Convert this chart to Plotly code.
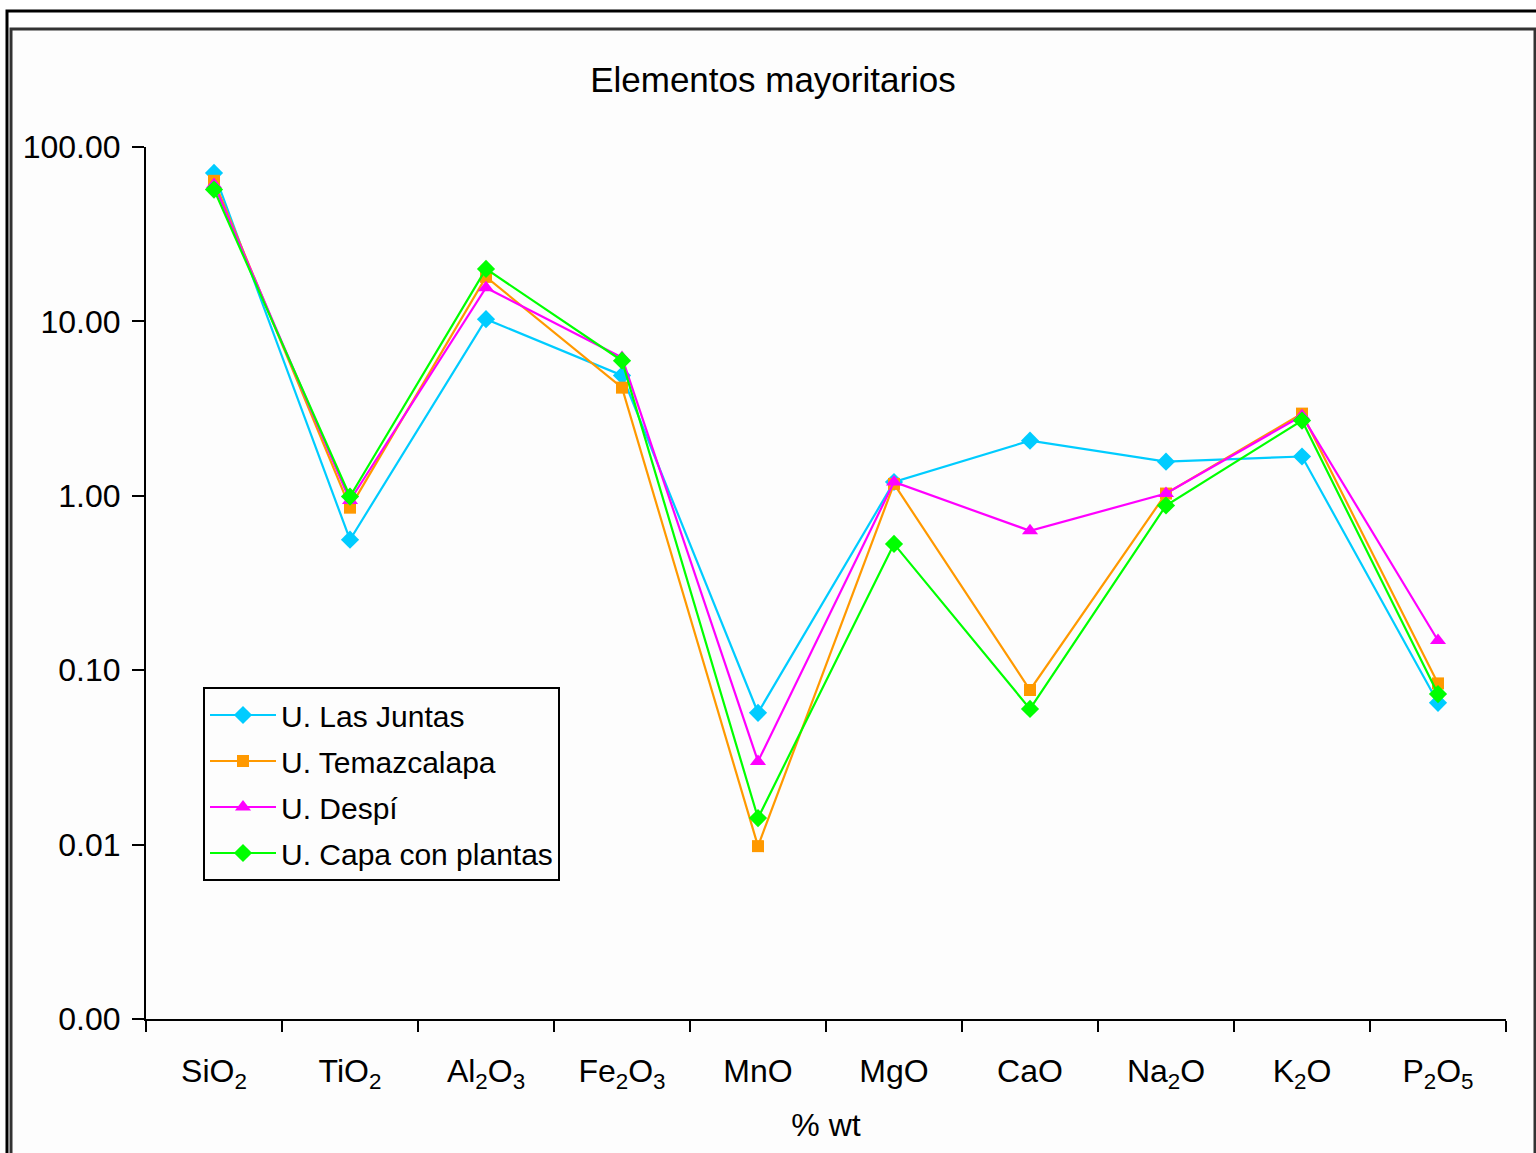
import plotly.graph_objects as go

categories = ["SiO<sub>2</sub>", "TiO<sub>2</sub>", "Al<sub>2</sub>O<sub>3</sub>", "Fe<sub>2</sub>O<sub>3</sub>",
              "MnO", "MgO", "CaO", "Na<sub>2</sub>O", "K<sub>2</sub>O", "P<sub>2</sub>O<sub>5</sub>"]

las_juntas = [71.0, 0.56, 10.3, 4.9, 0.057, 1.20, 2.07, 1.57, 1.68, 0.065]
temazcalapa = [64.0, 0.855, 18.0, 4.17, 0.0098, 1.17, 0.077, 1.03, 2.96, 0.084]
despi = [61.0, 0.94, 15.6, 6.2, 0.030, 1.20, 0.63, 1.03, 2.88, 0.148]
capa_plantas = [57.0, 0.99, 20.0, 5.95, 0.0142, 0.53, 0.060, 0.88, 2.70, 0.073]

series_names = ["U. Las Juntas", "U. Temazcalapa", "U. Despí", "U. Capa con plantas"]
y_tickvals = [0.001, 0.01, 0.1, 1, 10, 100]
y_ticktext = ["0.00", "0.01", "0.10", "1.00", "10.00", "100.00"]

W, H = 1536, 1153
L, R, T, B = 146, 1506, 147, 1019

def px_x(p):
    return (p - L) / (R - L)

def px_y(p):
    return (B - p) / (B - T)

styles = [
    dict(color="#00CCFF", symbol="diamond", size=14),
    dict(color="#FF9900", symbol="square", size=12),
    dict(color="#FF00FF", symbol="triangle-up", size=14),
    dict(color="#00FF00", symbol="diamond", size=14),
]

fig = go.Figure()
for i, (name, vals, st) in enumerate(zip(series_names, [las_juntas, temazcalapa, despi, capa_plantas], styles)):
    fig.add_trace(go.Scatter(
        x=categories, y=vals, name=name, mode="lines+markers",
        legendgroup=f"g{i}",
        line=dict(color=st["color"], width=2.2),
        marker=dict(color=st["color"], symbol=st["symbol"], size=st["size"]),
    ))

font_family = "Liberation Sans, Arial, sans-serif"

fig.update_layout(
    width=W, height=H,
    margin=dict(l=L, r=W - R, t=T, b=H - B),
    paper_bgcolor="white",
    plot_bgcolor="rgba(0,0,0,0)",
    font=dict(family=font_family, size=30, color="black"),
    title=dict(text="Elementos mayoritarios", x=773 / W, xanchor="center",
               y=1 - 80 / H, yanchor="middle", font=dict(size=35, color="black")),
    showlegend=True,
    legend=dict(x=px_x(203), y=px_y(687), xanchor="left", yanchor="top",
                bordercolor="black", borderwidth=2, bgcolor="rgba(0,0,0,0)",
                font=dict(size=30, color="black"), itemwidth=66,
                tracegroupgap=4),
    shapes=[
        dict(type="rect", xref="paper", yref="paper",
             x0=px_x(7), x1=px_x(1560), y0=px_y(1180), y1=px_y(11),
             line=dict(color="black", width=3), fillcolor="white", layer="below"),
        dict(type="rect", xref="paper", yref="paper",
             x0=px_x(11), x1=px_x(1535), y0=px_y(1180), y1=px_y(29),
             line=dict(color="#333333", width=3), fillcolor="#fdfdfd", layer="below"),
    ],
)

fig.update_xaxes(
    type="category", showline=True, linecolor="black", linewidth=2,
    showgrid=False, zeroline=False, mirror=False,
    ticks="outside", ticklen=11, tickwidth=2, tickcolor="black",
    tickson="boundaries", ticklabelstandoff=23,
    tickfont=dict(size=32, color="black"),
    title=dict(text="% wt", font=dict(size=32, color="black"), standoff=20),
    range=[-0.5, 9.5],
)
fig.update_yaxes(
    type="log", range=[-3, 2], showline=True, linecolor="black", linewidth=2,
    showgrid=False, zeroline=False, mirror=False,
    ticks="outside", ticklen=12, tickwidth=2, tickcolor="black",
    tickvals=y_tickvals, ticktext=y_ticktext, ticklabelstandoff=5,
    tickfont=dict(size=32, color="black"),
)

fig.write_html("out.html", config={"displayModeBar": False},
               post_script="document.body.style.margin='0px';")
